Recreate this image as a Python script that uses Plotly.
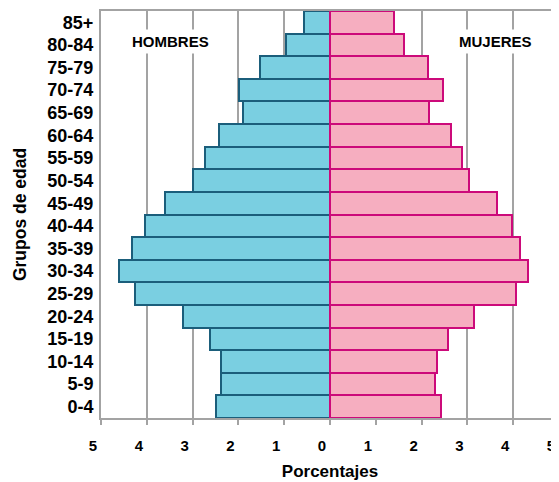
import plotly.graph_objects as go

age_groups = ["0-4", "5-9", "10-14", "15-19", "20-24", "25-29", "30-34", "35-39",
              "40-44", "45-49", "50-54", "55-59", "60-64", "65-69", "70-74",
              "75-79", "80-84", "85+"]
hombres = [2.49, 2.38, 2.39, 2.62, 3.20, 4.25, 4.61, 4.32, 4.03, 3.60, 3.00,
           2.72, 2.43, 1.90, 1.99, 1.53, 0.97, 0.56]
mujeres = [2.42, 2.29, 2.34, 2.57, 3.14, 4.06, 4.33, 4.15, 3.98, 3.64, 3.04,
           2.88, 2.64, 2.16, 2.46, 2.14, 1.62, 1.40]
tick_vals = [-5, -4, -3, -2, -1, 0, 1, 2, 3, 4, 5]
tick_text = ["5", "4", "3", "2", "1", "0", "1", "2", "3", "4", "5"]

FONT = "Liberation Sans, Arial, sans-serif"
GRID = "#a3a3a3"

fig = go.Figure()
fig.add_trace(go.Bar(
    y=age_groups, x=[-v for v in hombres], orientation="h", name="Hombres",
    marker=dict(color="#7acfe1", line=dict(color="#1b5e7b", width=2)),
))
fig.add_trace(go.Bar(
    y=age_groups, x=mujeres, orientation="h", name="Mujeres",
    marker=dict(color="#f6aec0", line=dict(color="#cc0a7a", width=2)),
))

# page body has an 8px margin, so the figure is 8px smaller than the window
fig.update_layout(
    width=551, height=474,
    margin=dict(l=93, r=0, t=3, b=64, autoexpand=False),
    barmode="overlay", bargap=0,
    showlegend=False,
    plot_bgcolor="white", paper_bgcolor="white",
    font=dict(family=FONT, color="black"),
    xaxis=dict(
        range=[-5, 5.0], tickvals=tick_vals, ticktext=tick_text,
        showgrid=True, gridcolor=GRID, gridwidth=2,
        zeroline=False, automargin=False,
        showline=True, linecolor=GRID, linewidth=2, mirror=True,
        ticks="outside", ticklen=5, tickcolor=GRID, tickwidth=2,
        tickfont=dict(size=15, family=FONT, weight="bold"),
        ticklabelshift=-8, ticklabelstandoff=8,
        title=dict(text="Porcentajes", font=dict(size=17, family=FONT, weight="bold"),
                   standoff=12),
        fixedrange=True,
    ),
    yaxis=dict(
        categoryorder="array", categoryarray=age_groups,
        showgrid=False, zeroline=False, automargin=False,
        showline=True, linecolor=GRID, linewidth=2,
        ticks="", ticklabelstandoff=2,
        tickfont=dict(size=18, family=FONT, weight="bold"),
        title=dict(text="Grupos de edad", font=dict(size=17.5, family=FONT, weight="bold"),
                   standoff=16),
        fixedrange=True,
    ),
    annotations=[
        dict(x=-3.49, y=0.924, xref="x", yref="paper", text="HOMBRES", showarrow=False,
             font=dict(size=15, family=FONT, weight="bold"), bgcolor="white",
             xanchor="center", yanchor="middle", borderpad=3),
        dict(x=3.62, y=0.924, xref="x", yref="paper", text="MUJERES", showarrow=False,
             font=dict(size=15, family=FONT, weight="bold"), bgcolor="white",
             xanchor="center", yanchor="middle", borderpad=3),
    ],
)

fig.write_html("out.html")
